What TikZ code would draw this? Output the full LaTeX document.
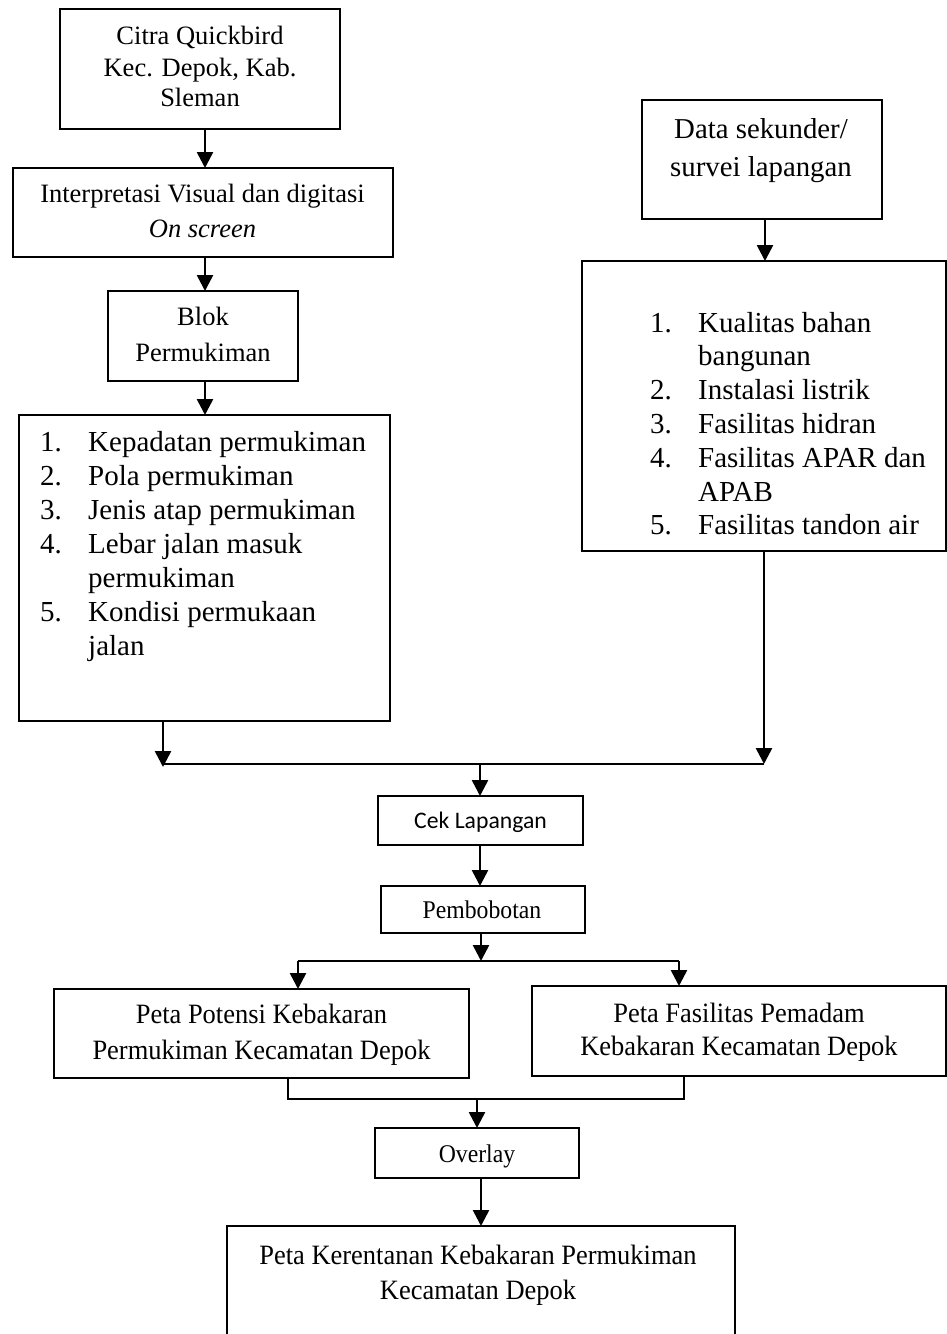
\documentclass[tikz,border=0pt]{standalone}
\usepackage{fontspec}
\setmainfont{Liberation Serif}
\newfontfamily\condfont[FakeStretch=0.945]{Liberation Serif}
\newfontfamily\smallcond[FakeStretch=0.93]{Liberation Serif}
\newfontfamily\calibfont{Carlito}
\usetikzlibrary{arrows.meta}
\tikzset{
  box/.style={draw, line width=2pt, inner sep=0pt, outer sep=0pt},
  arr/.style={line width=2.6pt, -{Triangle[width=16pt,length=16pt]}},
  ln/.style={line width=2pt},
  tx/.style={anchor=base, inner sep=0pt, font=\fontsize{26.5}{32}\selectfont},
  tds/.style={anchor=base, inner sep=0pt, font=\fontsize{28.8}{34}\selectfont},
  lt/.style={anchor=base west, inner sep=0pt, font=\fontsize{29}{34}\selectfont},
  tc/.style={anchor=base, inner sep=0pt, font=\condfont\fontsize{28}{34}\selectfont},
  tsc/.style={anchor=base, inner sep=0pt, font=\smallcond\fontsize{25.5}{30}\selectfont},
  tcal/.style={anchor=base, inner sep=0pt, font=\calibfont\fontsize{23.7}{28}\selectfont},
}
\begin{document}
\begin{tikzpicture}[x=1pt,y=-1pt]
\useasboundingbox (0,0) rectangle (947,1334);
\clip (0,0) rectangle (947,1334);
\fill[white] (0,0) rectangle (947,1334);

% boxes
\node[box, minimum width=280pt, minimum height=120pt] (b1) at (200,69) {};
\node[box, minimum width=380pt, minimum height=89pt] (b2) at (203,212.5) {};
\node[box, minimum width=190pt, minimum height=90pt] (b3) at (203,336) {};
\node[box, minimum width=371pt, minimum height=306pt] (b4) at (204.5,568) {};
\node[box, minimum width=240pt, minimum height=119pt] (ds) at (762,159.5) {};
\node[box, minimum width=364pt, minimum height=290pt] (b5) at (764,406) {};
\node[box, minimum width=205pt, minimum height=49pt] (cek) at (480.5,820.5) {};
\node[box, minimum width=204pt, minimum height=47pt] (pemb) at (483,909.5) {};
\node[box, minimum width=415pt, minimum height=89pt] (pp) at (261.5,1033.5) {};
\node[box, minimum width=414pt, minimum height=90pt] (pf) at (739,1031) {};
\node[box, minimum width=204pt, minimum height=50pt] (ov) at (477,1153) {};
\node[box, minimum width=508pt, minimum height=124pt] (fin) at (481,1288) {};

% texts
\node[tx] (t1a) at (200,44.3) {Citra Quickbird};
\node[tx] (t1b) at (200,76) {Kec. Depok, Kab.};
\node[tx] (t1c) at (200,106.7) {Sleman};
\node[tx] (t2a) at (202.5,202.7) {Interpretasi Visual dan digitasi};
\node[tx] (t2b) at (202.5,237.3) {\itshape On screen};
\node[tx] (t3a) at (203,325) {Blok};
\node[tx] (t3b) at (203,361.7) {Permukiman};
\node[tds] (tdsa) at (761,138.3) {Data sekunder/};
\node[tds] (tdsb) at (761,176.7) {survei lapangan};

\node[lt] (l1) at (40,451.7) {\makebox[48pt][l]{1.}Kepadatan permukiman};
\node[lt] (l2) at (40,485.6) {\makebox[48pt][l]{2.}Pola permukiman};
\node[lt] (l3) at (40,519.5) {\makebox[48pt][l]{3.}Jenis atap permukiman};
\node[lt] (l4) at (40,553.4) {\makebox[48pt][l]{4.}Lebar jalan masuk};
\node[lt] (l4b) at (88,587.3) {permukiman};
\node[lt] (l5) at (40,621.2) {\makebox[48pt][l]{5.}Kondisi permukaan};
\node[lt] (l5b) at (88,655.1) {jalan};

\node[lt] (r1) at (650,332) {\makebox[48pt][l]{1.}Kualitas bahan};
\node[lt] (r1b) at (698,365.8) {bangunan};
\node[lt] (r2) at (650,399.6) {\makebox[48pt][l]{2.}Instalasi listrik};
\node[lt] (r3) at (650,433.4) {\makebox[48pt][l]{3.}Fasilitas hidran};
\node[lt] (r4) at (650,467.2) {\makebox[48pt][l]{4.}Fasilitas APAR dan};
\node[lt] (r4b) at (698,501) {APAB};
\node[lt] (r5) at (650,534.8) {\makebox[48pt][l]{5.}Fasilitas tandon air};

\node[tcal] (tcek) at (480.5,828) {Cek Lapangan};
\node[tsc] (tpemb) at (482,918) {Pembobotan};
\node[tc] (tppa) at (261.5,1023) {Peta Potensi Kebakaran};
\node[tc] (tppb) at (261.5,1059) {Permukiman Kecamatan Depok};
\node[tc] (tpfa) at (739,1022) {Peta Fasilitas Pemadam};
\node[tc] (tpfb) at (739,1055.5) {Kebakaran Kecamatan Depok};
\node[tsc] (tov) at (477,1162.5) {Overlay};
\node[tc] (tfa) at (478,1264) {Peta Kerentanan Kebakaran Permukiman};
\node[tc] (tfb) at (478,1299.5) {Kecamatan Depok};

% connector coordinates
\coordinate (cl) at (205,0);
\coordinate (cr) at (765,0);
\coordinate (jl) at (163,767);
\coordinate (jr) at (764,764);
\coordinate (jc) at (480,764);
\coordinate (sp) at (481,961);
\coordinate (spl) at (298,961);
\coordinate (spr) at (679,961);
\coordinate (mgl) at (288,1099);
\coordinate (mgr) at (684,1099);
\coordinate (mgc) at (477,1099);

% connectors
\draw[arr] (b1.south -| cl) -- (b2.north -| cl);
\draw[arr] (b2.south -| cl) -- (b3.north -| cl);
\draw[arr] (b3.south -| cl) -- (b4.north -| cl);
\draw[arr] (ds.south -| cr) -- (b5.north -| cr);
\draw[arr] (b4.south -| jl) -- (jl);
\draw[arr] (b5.south -| jr) -- (jr);
\draw[ln] (jl |- jc) -- (jr);
\draw[arr] (jc) -- (cek.north -| jc);
\draw[arr] (cek.south -| jc) -- (pemb.north -| jc);
\draw[arr] (pemb.south -| sp) -- (sp);
\draw[ln] (spl) -- (spr);
\draw[arr] (spl) -- (pp.north -| spl);
\draw[arr] (spr) -- (pf.north -| spr);
\draw[ln] (pp.south -| mgl) -- (mgl) -- (mgr) -- (pf.south -| mgr);
\draw[arr] (mgc) -- (ov.north -| mgc);
\draw[arr] (ov.south -| fin.north) -- (fin.north);
\end{tikzpicture}
\end{document}
